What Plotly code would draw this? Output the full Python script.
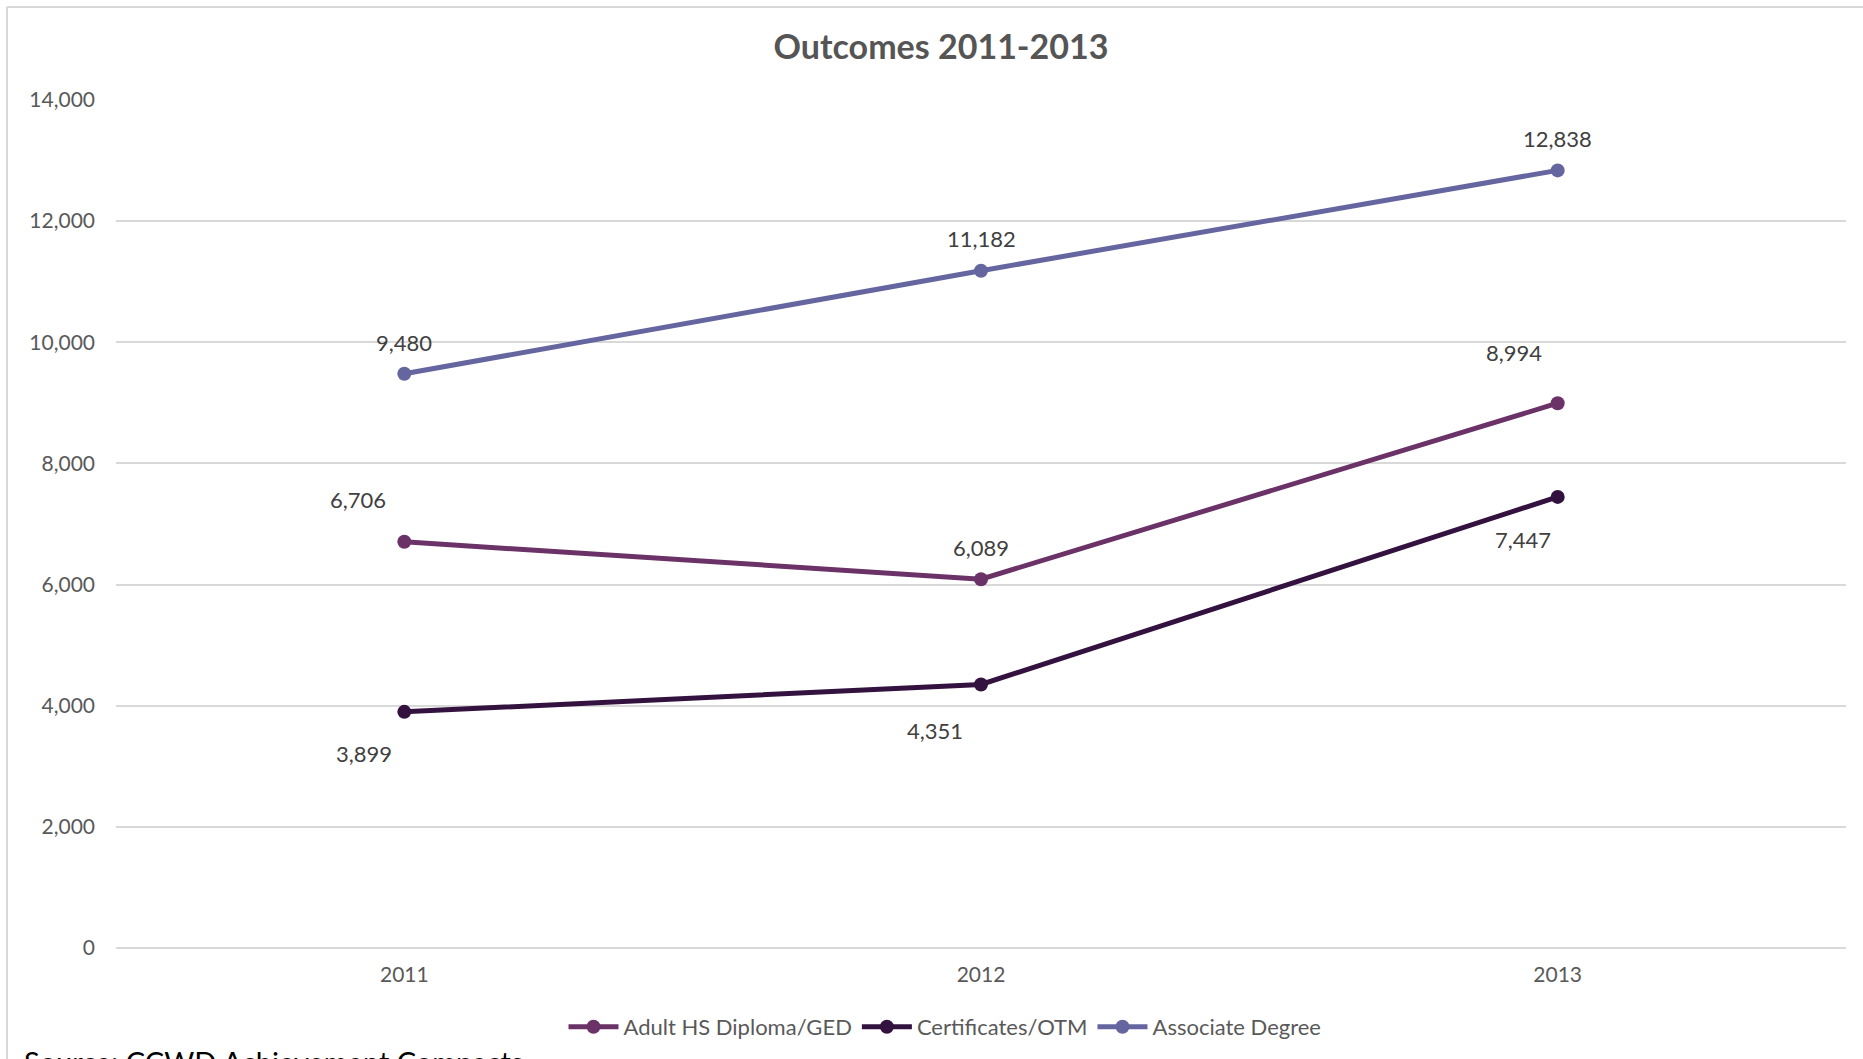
import plotly.graph_objects as go

years = [2011, 2012, 2013]
adult_hs = [6706, 6089, 8994]
certificates = [3899, 4351, 7447]
associate = [9480, 11182, 12838]
series_names = ["Adult HS Diploma/GED", "Certificates/OTM", "Associate Degree"]
y_ticks = [0, 2000, 4000, 6000, 8000, 10000, 12000, 14000]

colors = ["#6B3267", "#33123F", "#65669F"]
# label pixel offsets (dx, dy) per series per point
offsets = [
    [(-46, -42), (0, -32), (-44, -51)],
    [(-40, 42), (-46, 46), (-35, 43)],
    [(0, -31), (0, -32), (0, -32)],
]

FONT = "Lato"
L, R, T, B = 116, 17, 100, 110
W, H = 1863, 1059
pw, ph = W - L - R, H - T - B


def px_x(p):
    return (p - L) / pw


def px_y(p):
    return (H - B - p) / ph


fig = go.Figure()
all_series = [adult_hs, certificates, associate]
for name, vals, col in zip(series_names, all_series, colors):
    fig.add_trace(go.Scatter(
        x=years, y=vals, name=name, mode="lines+markers",
        line=dict(color=col, width=5),
        marker=dict(color=col, size=14),
    ))

annotations = []
for vals, offs in zip(all_series, offsets):
    for xv, yv, (dx, dy) in zip(years, vals, offs):
        annotations.append(dict(
            x=xv, y=yv, xref="x", yref="y", text=f"{yv:,}", showarrow=False,
            xshift=dx, yshift=-dy, font=dict(family=FONT, size=22, color="#404040"),
        ))

annotations.append(dict(
    x=px_x(22), y=px_y(1043), xref="paper", yref="paper",
    text="Source: CCWD Achievement Compacts",
    showarrow=False, xanchor="left", yanchor="top",
    font=dict(family=FONT, size=29, color="#000000"),
))

shapes = [
    dict(type="line", xref="paper", yref="paper", x0=px_x(7), x1=px_x(1900),
         y0=px_y(7), y1=px_y(7), line=dict(color="#D9D9D9", width=2)),
    dict(type="line", xref="paper", yref="paper", x0=px_x(7), x1=px_x(7),
         y0=px_y(7), y1=px_y(1100), line=dict(color="#D9D9D9", width=2)),
]

fig.update_layout(
    width=W, height=H,
    margin=dict(l=L, r=R, t=T, b=B),
    paper_bgcolor="white", plot_bgcolor="white",
    title=dict(text="<b>Outcomes 2011-2013</b>", x=941 / W,
               xanchor="center", y=1 - 47 / H, yanchor="middle",
               font=dict(family=FONT, size=34, color="#555555")),
    font=dict(family=FONT, size=20, color="#595959"),
    showlegend=True,
    legend=dict(orientation="h", x=px_x(945), xanchor="center", y=px_y(1027),
                yanchor="middle", font=dict(family=FONT, size=22, color="#595959"),
                itemwidth=50),
    annotations=annotations,
    shapes=shapes,
)
fig.update_xaxes(range=[2010.5, 2013.5], tickvals=years, ticktext=[str(y) for y in years],
                 showgrid=False, showline=False, ticks="", zeroline=False,
                 tickfont=dict(family=FONT, size=21, color="#595959"), ticklabelstandoff=12)
fig.update_yaxes(range=[0, 14000], tickvals=y_ticks, tickformat=",",
                 showgrid=True, gridcolor="#D9D9D9", gridwidth=1.5,
                 zeroline=True, zerolinecolor="#D9D9D9", zerolinewidth=1.5,
                 showline=False, ticks="", ticklabelstandoff=20,
                 tickfont=dict(family=FONT, size=21, color="#595959"))

fig.write_html("out.html")
